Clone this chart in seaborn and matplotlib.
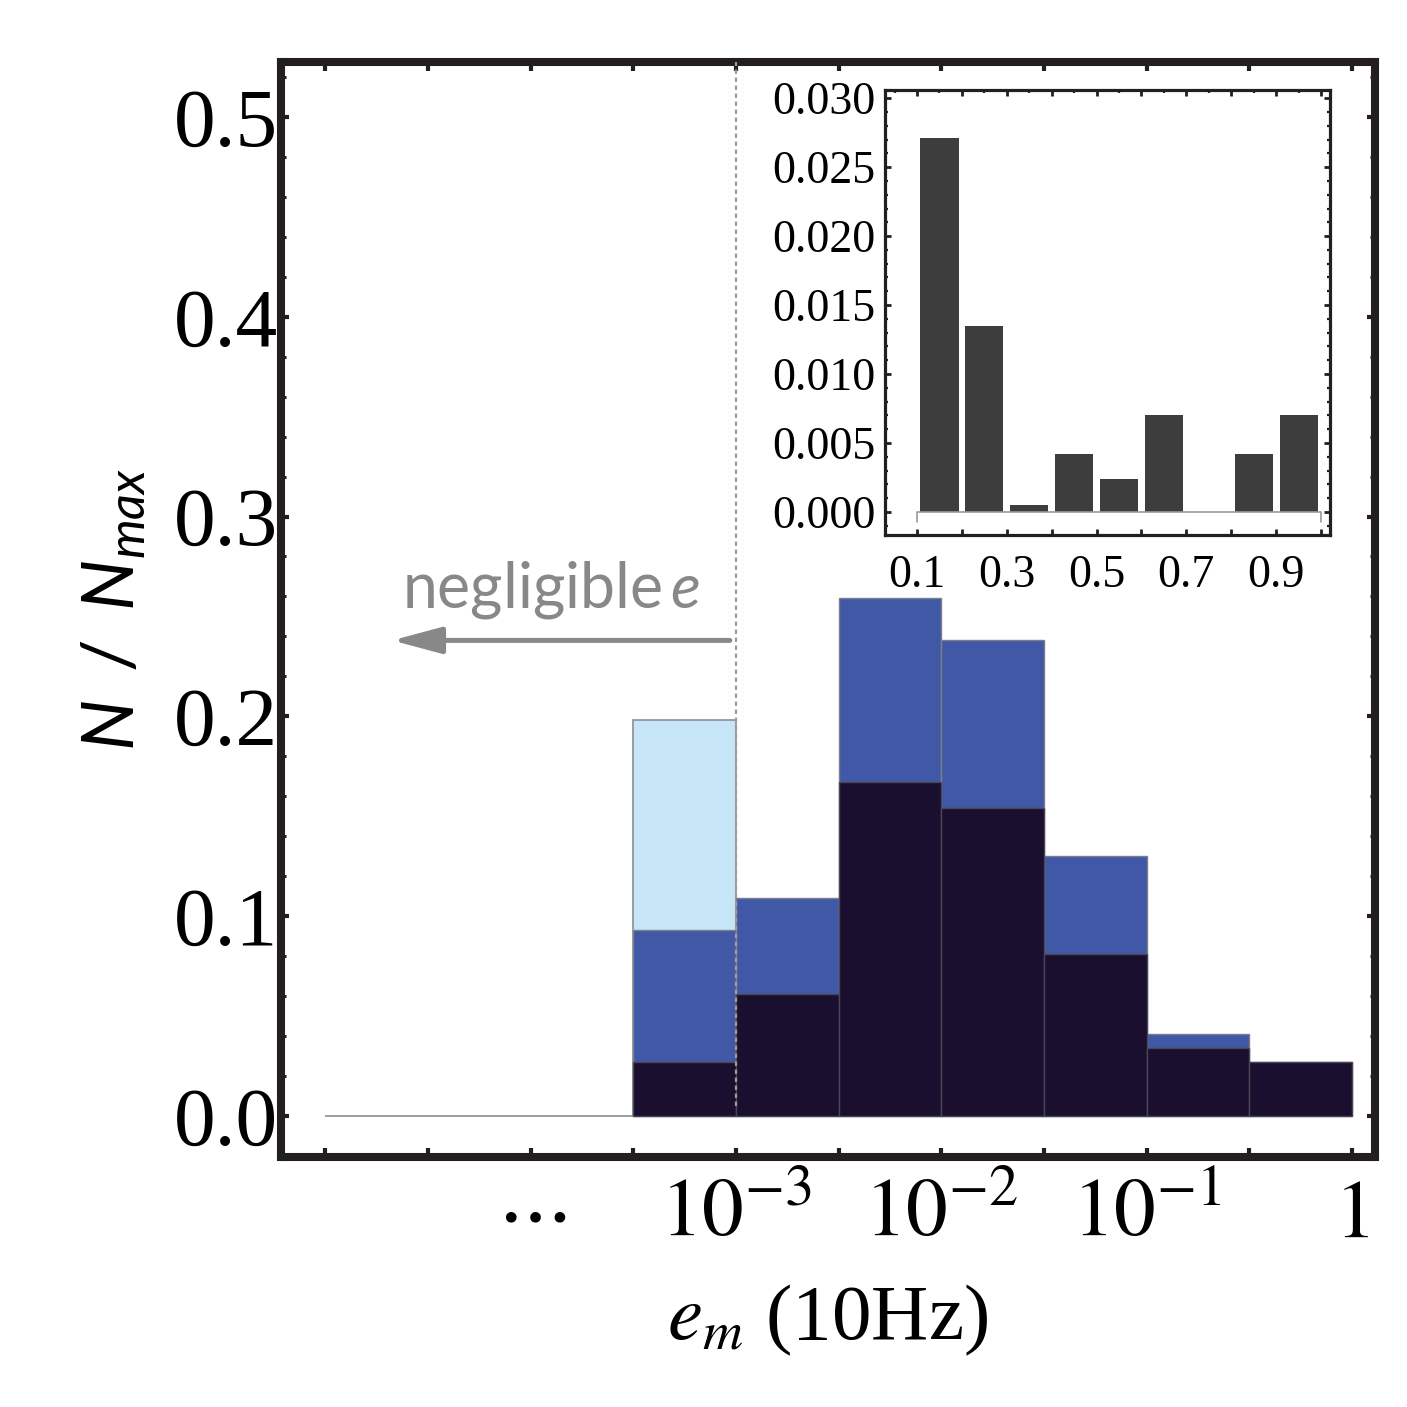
import numpy as np
import pandas as pd
import seaborn as sns
import matplotlib as mpl
import matplotlib.pyplot as plt
from matplotlib.ticker import MultipleLocator, FixedLocator

mpl.use('Agg')

# ---------------- data ----------------
# main histogram, x is log10(e_m), half-decade bins
e_edges = [-5.0, -4.5, -4.0, -3.5, -3.0, -2.5, -2.0, -1.5, -1.0, -0.5, 0.0]
n_light = [0, 0, 0, 0.198, 0, 0, 0, 0, 0, 0]
n_blue  = [0, 0, 0, 0.093, 0.109, 0.259, 0.238, 0.130, 0.041, 0.027]
n_dark  = [0, 0, 0, 0.027, 0.061, 0.167, 0.154, 0.081, 0.034, 0.027]

xtick_pos    = [-4, -3, -2, -1, 0]
xtick_labels = [r'$\cdots$', r'$10^{-3}$', r'$10^{-2}$', r'$10^{-1}$', r'$1$']
ytick_pos    = [0.0, 0.1, 0.2, 0.3, 0.4, 0.5]

# inset histogram
in_edges = [0.1, 0.2, 0.3, 0.4, 0.5, 0.6, 0.7, 0.8, 0.9, 1.0]
in_vals  = [0.0271, 0.0135, 0.0005, 0.0042, 0.0024, 0.0070, 0.0, 0.0042, 0.0070]
in_xlabels = ['0.1', '', '0.3', '', '0.5', '', '0.7', '', '0.9', '']
in_yticks  = [0.000, 0.005, 0.010, 0.015, 0.020, 0.025, 0.030]

e_cut = -3.0   # "negligible e" threshold (10^-3)

# ---------------- style ----------------
sns.set_style('ticks')
plt.rcParams['font.family'] = ['Liberation Serif', 'DejaVu Serif']
plt.rcParams['mathtext.fontset'] = 'stix'
plt.rcParams['mathtext.rm'] = 'Lato'
plt.rcParams['mathtext.it'] = 'Lato:italic'
plt.rcParams['xtick.direction'] = 'in'
plt.rcParams['ytick.direction'] = 'in'
plt.rcParams['text.color'] = 'black'
plt.rcParams['axes.labelcolor'] = 'black'
plt.rcParams['xtick.labelcolor'] = 'black'
plt.rcParams['ytick.labelcolor'] = 'black'

FRAME = '#231f20'
C_LIGHT = '#c6e6f8'
C_BLUE = '#4158a6'
C_DARK = '#1a0f2e'
C_GRAY = '#888888'

fig = plt.figure(figsize=(14.07, 14.07), dpi=100)
ax = fig.add_axes([0.1997, 0.1777, 0.7775, 0.7783])

centers = 0.5 * (np.array(e_edges[:-1]) + np.array(e_edges[1:]))
df = pd.DataFrame({'loge': centers, 'light': n_light, 'blue': n_blue, 'dark': n_dark})

# light series over all bins (zero bins give the grey baseline)
sns.histplot(data=df, x='loge', weights='light', bins=e_edges, ax=ax,
             color=C_LIGHT, alpha=1, edgecolor='#8a8f94', linewidth=1.2)
for col, fc, ec in [('blue', C_BLUE, '#7a7f8a'), ('dark', C_DARK, '#4a4656')]:
    nz = np.flatnonzero(df[col].to_numpy())
    lo, hi = nz[0], nz[-1] + 1
    sub = df.iloc[lo:hi]
    sns.histplot(data=sub, x='loge', weights=col, bins=e_edges[lo:hi + 1], ax=ax,
                 color=fc, alpha=1, edgecolor=ec, linewidth=1.0)

ax.set_xlim(-5.216, 0.112)
ax.set_ylim(-0.0205, 0.5275)

# threshold line and annotation
ax.vlines(e_cut, 0.005, 0.5275, colors='#9c9c9c', linestyles=(0, (2, 1.6)),
          linewidth=1.6, zorder=5)
ax.annotate('', xy=(-4.675, 0.238), xytext=(e_cut - 0.03, 0.238),
            arrowprops=dict(arrowstyle='-|>,head_length=0.67,head_width=0.18',
                            color=C_GRAY, lw=3.6, mutation_scale=45,
                            shrinkA=0, shrinkB=0))
ax.text(-3.90, 0.263, r'$\mathrm{negligible}\,e$', color=C_GRAY, fontsize=45,
        ha='center', va='center', math_fontfamily='custom')

# ticks
ax.set_xticks(xtick_pos)
ax.set_xticklabels(xtick_labels)
ax.xaxis.set_minor_locator(MultipleLocator(0.5))
ax.set_yticks(ytick_pos)
ax.set_yticklabels([f'{v:.1f}' for v in ytick_pos])
ax.yaxis.set_minor_locator(MultipleLocator(0.02))
ax.tick_params(axis='both', which='both', top=True, right=True, color=FRAME)
ax.tick_params(axis='y', which='major', length=6, width=3, labelsize=60, pad=2)
ax.tick_params(axis='y', which='minor', length=3.5, width=2.2)
ax.tick_params(axis='x', which='both', length=6.5, width=3, labelsize=60, pad=16)
for lab in ax.get_xticklabels():
    lab.set_math_fontfamily('stix')

for sp in ax.spines.values():
    sp.set_visible(True)
    sp.set_color(FRAME)
    sp.set_linewidth(5.8)

ax.set_xlabel(r'$e_m$ (10Hz)', fontsize=57, labelpad=20, math_fontfamily='stix')
ax.set_ylabel(r'$N\ \,/\ \,N_{max}$', fontsize=52, labelpad=18, math_fontfamily='custom')

# ---------------- inset ----------------
axin = fig.add_axes([0.629, 0.6198, 0.3163, 0.3163])
in_centers = 0.5 * (np.array(in_edges[:-1]) + np.array(in_edges[1:]))
dfin = pd.DataFrame({'e': in_centers, 'n': in_vals})
sns.histplot(data=dfin, x='e', weights='n', bins=in_edges, ax=axin, shrink=0.85,
             color='#3d3d3d', alpha=1, linewidth=0)
axin.plot([in_edges[0], in_edges[0], in_edges[-1], in_edges[-1]],
          [-0.0007, 0, 0, -0.0007], color='#9a9a9a', lw=1.2, zorder=4)
axin.set_xlim(0.0287, 1.02)
axin.set_ylim(-0.00167, 0.0306)
axin.xaxis.set_major_locator(FixedLocator(in_edges))
axin.set_xticklabels(in_xlabels)
axin.xaxis.set_minor_locator(MultipleLocator(0.05))
axin.set_yticks(in_yticks)
axin.set_yticklabels([f'{v:.3f}' for v in in_yticks])
axin.yaxis.set_minor_locator(MultipleLocator(0.001))
axin.tick_params(axis='both', which='both', top=True, right=True, color=FRAME)
axin.tick_params(axis='x', which='minor', bottom=False)
axin.tick_params(axis='both', which='major', length=4, width=2, labelsize=33)
axin.tick_params(axis='both', which='minor', length=2.5, width=1.6)
axin.tick_params(axis='y', which='major', pad=7)
axin.tick_params(axis='x', which='major', pad=14)
for sp in axin.spines.values():
    sp.set_visible(True)
    sp.set_color(FRAME)
    sp.set_linewidth(2.3)
axin.set_xlabel('')
axin.set_ylabel('')

fig.savefig('out.png', dpi=100)
plt.close(fig)
